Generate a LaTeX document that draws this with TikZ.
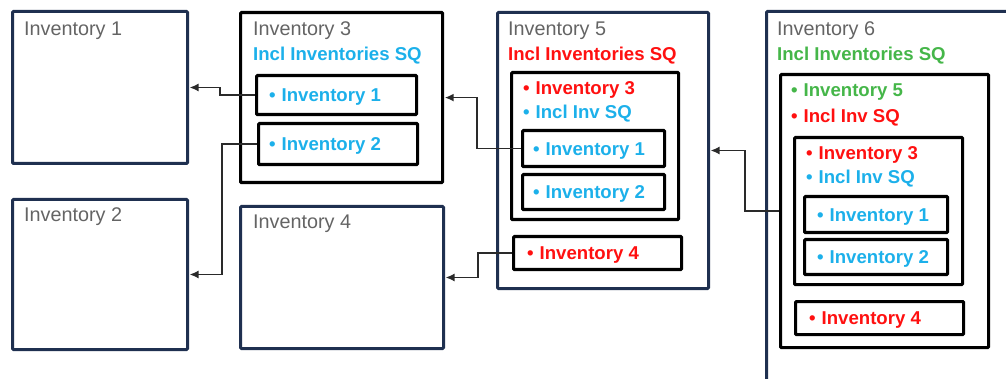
\documentclass[tikz,border=0pt]{standalone}
\usepackage{fontspec}
\setmainfont{Liberation Sans}
\usepackage{xcolor}
\usetikzlibrary{arrows.meta, positioning}

\definecolor{navy}{HTML}{1F3050}
\definecolor{titlegray}{HTML}{646464}
\definecolor{sqblue}{HTML}{1CB0EA}
\definecolor{sqred}{HTML}{FF1010}
\definecolor{sqgreen}{HTML}{45B649}
\definecolor{linkgray}{HTML}{2A2A2A}

\newcommand{\invtitlefont}{\fontsize{19.8}{22}\selectfont}
\newcommand{\invitemfont}{\fontsize{18.6}{21}\selectfont\bfseries}
\newcommand{\bul}{•\hspace{6pt}}

\begin{document}
\begin{tikzpicture}[
    x=1pt, y=-1pt,
    navybox/.style={rectangle, draw=navy, line width=3pt, rounded corners=1pt, anchor=north west, inner sep=0pt},
    blackbox/.style={rectangle, draw=black, line width=3.2pt, rounded corners=1pt, anchor=north west, inner sep=0pt},
    title/.style={anchor=base west, inner sep=0pt, text=titlegray, font=\invtitlefont},
    sqline/.style={anchor=base west, inner sep=0pt, font=\invitemfont},
    item/.style={anchor=west, inner sep=0pt, font=\invitemfont, text height=13pt, text depth=0pt},
    link/.style={-{Latex[length=9pt, width=8pt]}, line width=1.7pt, draw=linkgray, shorten >=0.5pt}
  ]
    \useasboundingbox (0,0) rectangle (1006,379);
    \clip (0,0) rectangle (1006,379);

    % Inventory 1 and 2
    \node[navybox, minimum width=175pt, minimum height=152pt] (inv1) at (11,10) {};
    \node[title] (inv1-title) at (24,36) {Inventory 1};
    \node[navybox, minimum width=175pt, minimum height=150pt] (inv2) at (11,198) {};
    \node[title] (inv2-title) at (24,222) {Inventory 2};

    % Inventory 3
    \node[blackbox, minimum width=202pt, minimum height=170pt] (inv3) at (239,11) {};
    \node[title] (inv3-title) at (253,36) {Inventory 3};
    \node[sqline, text=sqblue] (inv3-sq) at (253,61) {Incl Inventories SQ};
    \node[blackbox, minimum width=160pt, minimum height=39pt] (inv3a) at (255,74) {};
    \node[item, text=sqblue, right=14pt of inv3a.west] (inv3a-text) {\bul Inventory 1};
    \node[blackbox, minimum width=159pt, minimum height=41pt] (inv3b) at (257,122) {};
    \node[item, text=sqblue, right=12pt of inv3b.west] (inv3b-text) {\bul Inventory 2};

    % Inventory 4
    \node[navybox, minimum width=203pt, minimum height=142pt] (inv4) at (239,205) {};
    \node[title] (inv4-title) at (253,229) {Inventory 4};

    % Inventory 5
    \node[navybox, minimum width=211pt, minimum height=276pt] (inv5) at (496,11) {};
    \node[title] (inv5-title) at (508,36) {Inventory 5};
    \node[sqline, text=sqred] (inv5-sq) at (508,61) {Incl Inventories SQ};
    \node[blackbox, minimum width=167pt, minimum height=147pt] (inv5a) at (510,71) {};
    \node[sqline, text=sqred] (inv5a-inv) at (523,95) {\bul Inventory 3};
    \node[sqline, text=sqblue] (inv5a-sq) at (523,119) {\bul Incl Inv SQ};
    \node[blackbox, minimum width=142pt, minimum height=36pt] (inv5b) at (521,129) {};
    \node[item, text=sqblue, right=12pt of inv5b.west] (inv5b-text) {\bul Inventory 1};
    \node[blackbox, minimum width=142pt, minimum height=35pt] (inv5c) at (521,173) {};
    \node[item, text=sqblue, right=12pt of inv5c.west] (inv5c-text) {\bul Inventory 2};
    \node[blackbox, minimum width=168pt, minimum height=33pt] (inv5d) at (512,235) {};
    \node[item, text=sqred, right=15pt of inv5d.west] (inv5d-text) {\bul Inventory 4};

    % Inventory 6
    \node[navybox, minimum width=260pt, minimum height=380pt] (inv6) at (765,10) {};
    \node[title] (inv6-title) at (777,36) {Inventory 6};
    \node[sqline, text=sqgreen] (inv6-sq) at (777,61) {Incl Inventories SQ};
    \node[blackbox, minimum width=208pt, minimum height=273pt] (inv6a) at (779,73) {};
    \node[sqline, text=sqgreen] (inv6a-inv) at (791,97) {\bul Inventory 5};
    \node[sqline, text=sqred] (inv6a-sq) at (791,123) {\bul Incl Inv SQ};
    \node[blackbox, minimum width=168pt, minimum height=147pt] (inv6b) at (793,136) {};
    \node[sqline, text=sqred] (inv6b-inv) at (806,160) {\bul Inventory 3};
    \node[sqline, text=sqblue] (inv6b-sq) at (806,184) {\bul Incl Inv SQ};
    \node[blackbox, minimum width=143pt, minimum height=36pt] (inv6c) at (803,195) {};
    \node[item, text=sqblue, right=14pt of inv6c.west] (inv6c-text) {\bul Inventory 1};
    \node[blackbox, minimum width=143pt, minimum height=35pt] (inv6d) at (803,238) {};
    \node[item, text=sqblue, right=14pt of inv6d.west] (inv6d-text) {\bul Inventory 2};
    \node[blackbox, minimum width=168pt, minimum height=33pt] (inv6e) at (794,300) {};
    \node[item, text=sqred, right=15pt of inv6e.west] (inv6e-text) {\bul Inventory 4};

    % Links
    \draw[link] (inv3a.west) -- ++(-35,0) |- (inv1.east);
    \draw[link] (inv3b.west) -- ++(-35,0) |- (inv2.east);
    \draw[link] (inv5b.west) -- ++(-44,0) |- (inv3.east);
    \draw[link] (inv5d.west) -- ++(-34,0) |- (inv4.east);
    \draw[link] (inv6a.west) -- ++(-34,0) |- (inv5.east);

  \end{tikzpicture}
\end{document}
